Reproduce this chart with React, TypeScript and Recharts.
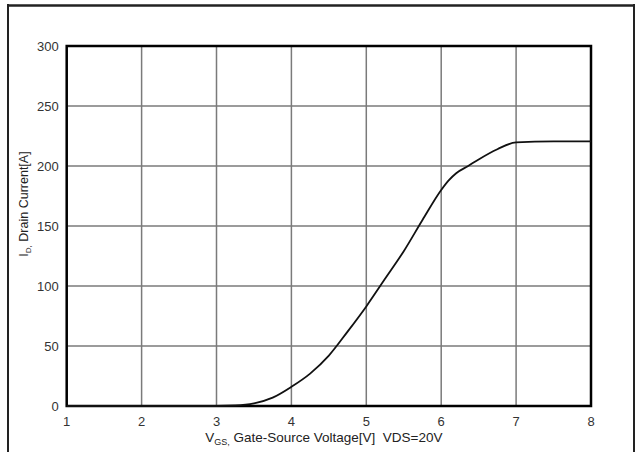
import {
  LineChart,
  Line,
  XAxis,
  YAxis,
  CartesianGrid,
  ReferenceArea,
} from "recharts";

// gate-source voltage [V] and drain current [A]
const vgs = [1, 2, 3, 3.25, 3.5, 3.75, 4, 4.25, 4.5, 4.75, 5, 5.25, 5.5, 5.75, 6, 6.1, 6.2, 6.36, 6.5, 6.75, 7, 7.5, 8];
const idrain = [0, 0, 0, 0.4, 2.2, 7, 16, 27, 42, 62, 83, 106, 129, 155, 180, 188, 194, 200, 205.5, 214, 219.7, 220.5, 220.5];

const xTicks = [1, 2, 3, 4, 5, 6, 7, 8];
const yTicks = [0, 50, 100, 150, 200, 250, 300];

const FONT = "'Liberation Sans', Arial, sans-serif";

const rows = vgs.map((v, i) => ({ vgs: v, id: idrain[i] }));

function XLabel(props: any) {
  const vb = props.viewBox || {};
  const cx = vb.x + vb.width / 2 - 5;
  return (
    <text x={cx} y={442} textAnchor="middle" fontFamily={FONT} fontSize={13.5} fill="#222">
      <tspan>V</tspan>
      <tspan fontSize={9} dy={3}>GS</tspan>
      <tspan fontSize={9}>,</tspan>
      <tspan dy={-3}>{" Gate-Source Voltage[V]\u00a0 VDS=20V"}</tspan>
    </text>
  );
}

function YLabel() {
  const x = 28;
  const y = 204;
  return (
    <text
      x={x}
      y={y}
      transform={`rotate(-90, ${x}, ${y})`}
      textAnchor="middle"
      fontFamily={FONT}
      fontSize={12.5}
      fill="#222"
    >
      <tspan>I</tspan>
      <tspan fontSize={8} dy={3}>D</tspan>
      <tspan fontSize={8}>,</tspan>
      <tspan dy={-3}> Drain Current[A]</tspan>
    </text>
  );
}

export default function App() {
  return (
    <div style={{ position: "fixed", left: 0, top: 0, width: 638, height: 452, background: "#fff" }}>
      {/* outer frame of the datasheet figure */}
      <svg width={638} height={452} style={{ position: "absolute", left: 0, top: 0 }}>
        <line x1={7} y1={5.5} x2={635} y2={5.5} stroke="#222" strokeWidth={2.5} />
        <line x1={8} y1={4} x2={8} y2={452} stroke="#222" strokeWidth={2} />
        <line x1={634} y1={4} x2={634} y2={452} stroke="#222" strokeWidth={2} />
      </svg>
      <div style={{ position: "absolute", left: 0, top: 0 }}>
        <LineChart width={638} height={452} data={rows} margin={{ top: 46, right: 47, bottom: 0, left: 0 }}>
          <CartesianGrid stroke="#7a7a7a" strokeWidth={1.5} />
          <XAxis
            dataKey="vgs"
            type="number"
            domain={[1, 8]}
            ticks={xTicks}
            height={46}
            tickLine={false}
            axisLine={false}
            tickMargin={5}
            tick={{ fontFamily: FONT, fontSize: 13, fill: "#333" }}
            label={<XLabel />}
          />
          <YAxis
            type="number"
            domain={[0, 300]}
            ticks={yTicks}
            width={66.7}
            tickLine={false}
            axisLine={false}
            tick={{ fontFamily: FONT, fontSize: 13, fill: "#333" }}
            label={<YLabel />}
          />
          <ReferenceArea x1={1} x2={8} y1={0} y2={300} fill="none" stroke="#000" strokeWidth={2.5} />
          <Line
            type="monotone"
            dataKey="id"
            stroke="#111"
            strokeWidth={1.8}
            dot={false}
            isAnimationActive={false}
          />
        </LineChart>
      </div>
    </div>
  );
}
